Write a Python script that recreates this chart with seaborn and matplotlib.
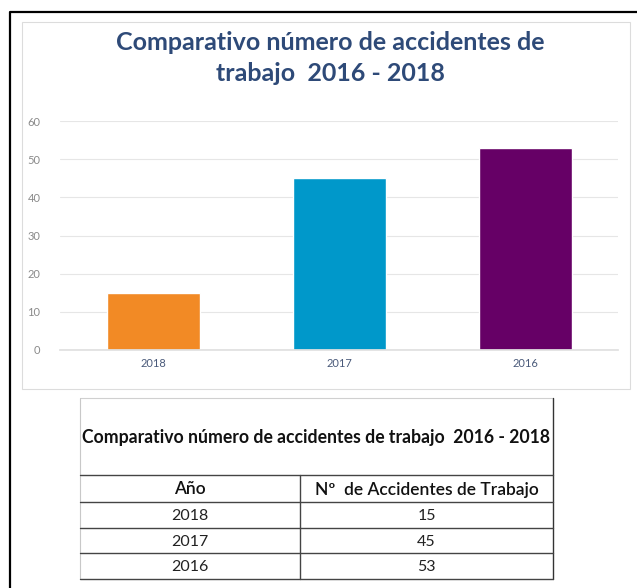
import matplotlib
matplotlib.use("Agg")
import matplotlib.pyplot as plt
import seaborn as sns
import pandas as pd
from matplotlib.patches import Rectangle

# datos
anios = ["2018", "2017", "2016"]
accidentes = [15, 45, 53]
colores = ["#F28A25", "#0098CA", "#660066"]
titulo = "Comparativo número de accidentes de\ntrabajo  2016 - 2018"
titulo_tabla = "Comparativo número de accidentes de trabajo  2016 - 2018"
encabezados = ["Año", "Nº  de Accidentes de Trabajo"]

df = pd.DataFrame({"anio": anios, "accidentes": accidentes})

sns.set_theme(style="white")
plt.rcParams["font.family"] = ["Lato", "DejaVu Sans"]

W, H = 637, 588
fig = plt.figure(figsize=(W / 100, H / 100), dpi=100)

# capa de fondo en pixeles
bg = fig.add_axes([0, 0, 1, 1], zorder=0)
bg.set_xlim(0, W)
bg.set_ylim(H, 0)
bg.axis("off")
bg.plot([10, 10, W], [H, 12, 12], color="black", lw=1.6)
bg.add_patch(Rectangle((22, 22), 608, 367, fill=False, ec="#dcdcdc", lw=0.8))
bg.text(330, 58, titulo, ha="center", va="center", fontsize=18,
        fontweight="bold", color="#2E4A78", linespacing=1.4)

# tabla
tx0, tx1, tmid = 80, 553, 300
filas = [398, 475, 502, 528, 553, 579]
bg.plot([tx0, tx1], [filas[0], filas[0]], color="#d0d0d0", lw=0.8)
bg.plot([tx0, tx0], [filas[0], filas[-1]], color="#c8c8c8", lw=0.8)
bg.plot([tx1, tx1], [filas[0], filas[-1]], color="#333333", lw=1.0)
for y in filas[1:]:
    bg.plot([tx0, tx1], [y, y], color="#444444", lw=1.0)
bg.plot([tmid, tmid], [filas[1], filas[-1]], color="#444444", lw=1.0)
bg.text((tx0 + tx1) / 2, (filas[0] + filas[1]) / 2 + 1, titulo_tabla,
        ha="center", va="center", fontsize=12.7, fontweight="bold", color="#111111")
bg.text((tx0 + tmid) / 2, (filas[1] + filas[2]) / 2 + 1, encabezados[0],
        ha="center", va="center", fontsize=12.5, fontweight="semibold", color="#111111")
bg.text((tmid + tx1) / 2, (filas[1] + filas[2]) / 2 + 1, encabezados[1],
        ha="center", va="center", fontsize=12.5, fontweight="semibold", color="#111111")
for i, (a, v) in enumerate(zip(anios, accidentes)):
    yc = (filas[i + 2] + filas[i + 3]) / 2 + 1
    bg.text((tx0 + tmid) / 2, yc, a, ha="center", va="center", fontsize=11.5, color="#222222")
    bg.text((tmid + tx1) / 2, yc, str(v), ha="center", va="center", fontsize=11.5, color="#222222")

# grafico de barras
ax = fig.add_axes([60 / W, (H - 350) / H, 558 / W, (350 - 121) / H], zorder=1)
ax.patch.set_alpha(0)
sns.barplot(data=df, x="anio", y="accidentes", hue="anio", palette=colores,
            width=0.5, legend=False, ax=ax, saturation=1)
ax.set_ylim(0, 60)
ax.set_yticks(range(0, 61, 10))
ax.yaxis.grid(True, color="#e6e6e6", lw=0.8)
ax.set_axisbelow(True)
ax.set_xlabel("")
ax.set_ylabel("")
for s in ["top", "right", "left"]:
    ax.spines[s].set_visible(False)
ax.spines["bottom"].set_color("#e0e0e0")
ax.tick_params(axis="y", labelsize=8, labelcolor="#8a8a8a", length=0, pad=14)
ax.tick_params(axis="x", labelsize=8, labelcolor="#4a5a7a", length=0, pad=6)

fig.savefig("out.png", dpi=100)
